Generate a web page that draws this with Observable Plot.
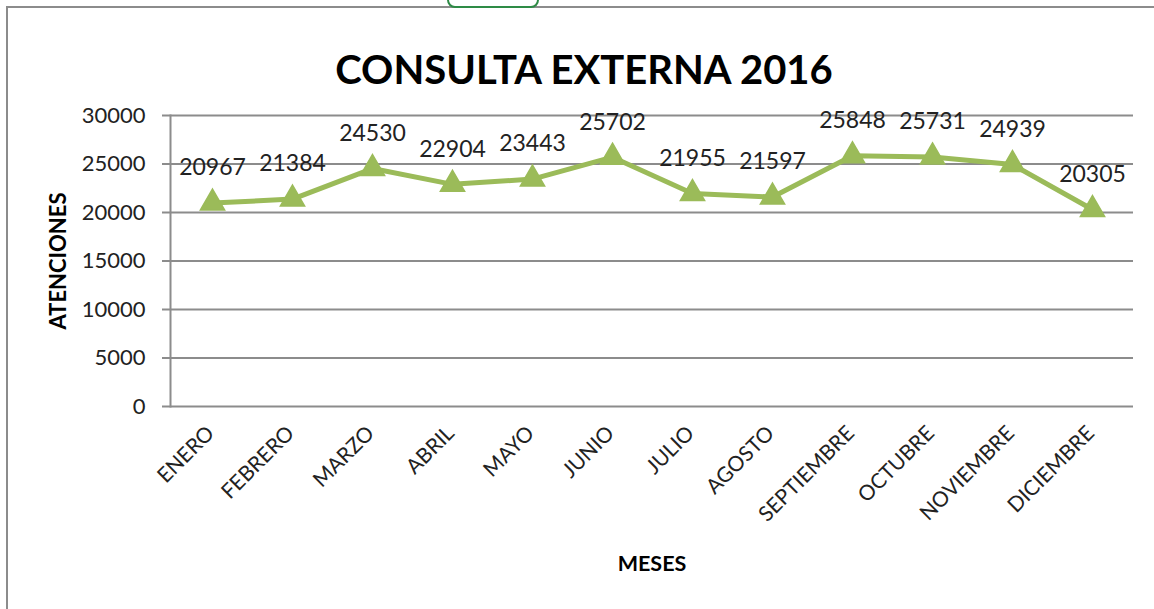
<!DOCTYPE html>
<html>
<head>
<meta charset="utf-8">
<script src="https://cdn.jsdelivr.net/npm/d3@7"></script>
<script src="https://cdn.jsdelivr.net/npm/@observablehq/plot@0.6"></script>
<style>
  html, body { margin: 0; padding: 0; background: #fff; }
  body { width: 1154px; height: 609px; position: relative; overflow: hidden; font-family: Lato, "Open Sans", sans-serif; }
  #frame { position: absolute; left: 6px; top: 6px; width: 1200px; height: 700px; border: 2px solid #8c8c8c; box-sizing: border-box; }
  #logo { position: absolute; left: 447px; top: -14px; width: 88px; height: 18px; border: 2px solid #2e8b46; border-radius: 8px; background: #fff; }
  #chart { position: absolute; left: 0; top: 0; }
</style>
</head>
<body>
<div id="frame"></div>
<div id="logo"></div>
<div id="chart"></div>
<script>
const title = "CONSULTA EXTERNA 2016";
const yLabel = "ATENCIONES";
const xLabel = "MESES";
const months = ["ENERO","FEBRERO","MARZO","ABRIL","MAYO","JUNIO","JULIO","AGOSTO","SEPTIEMBRE","OCTUBRE","NOVIEMBRE","DICIEMBRE"];
const values = [20967, 21384, 24530, 22904, 23443, 25702, 21955, 21597, 25848, 25731, 24939, 20305];
const yTicks = [0, 5000, 10000, 15000, 20000, 25000, 30000];

const data = months.map((m, i) => ({month: m, value: values[i]}));
const green = "#9bbb59";
const grey = "#8c8c8c";

const chart = Plot.plot({
  width: 1154,
  height: 609,
  marginLeft: 170,
  marginRight: 21,
  marginTop: 115,
  marginBottom: 203,
  style: {fontFamily: "Lato, 'Open Sans', sans-serif", background: "transparent", overflow: "visible"},
  x: {type: "point", domain: months, padding: 0.5, axis: null},
  y: {domain: [0, 30000], ticks: yTicks, label: null},
  marks: [
    Plot.ruleY(yTicks, {stroke: grey, strokeWidth: 2, insetLeft: -8}),
    Plot.frame({anchor: "left", stroke: grey, strokeWidth: 2}),
    Plot.axisY({ticks: yTicks, tickSize: 0, tickPadding: 25, fontSize: 22, fill: "#222", label: null, tickFormat: d => String(d)}),
    Plot.line(data, {x: "month", y: "value", stroke: green, strokeWidth: 5}),
    Plot.dot(data, {x: "month", y: "value", symbol: "triangle", r: 9, fill: green, stroke: green}),
    Plot.text(data, {x: "month", y: "value", text: d => String(d.value), dy: -35, fontSize: 23, fill: "#222"}),
    Plot.text(months, {x: d => d, frameAnchor: "bottom", rotate: -45, textAnchor: "end", dx: 3, dy: 28, fontSize: 21, fill: "#222"}),
    Plot.text([title], {frameAnchor: "top", dx: -68, dy: -60, fontSize: 40, fontWeight: "bold", fill: "#000"}),
    Plot.text([yLabel], {frameAnchor: "left", textAnchor: "middle", dx: -112, rotate: -90, fontSize: 22, fontWeight: "bold", fill: "#000"}),
    Plot.text([xLabel], {frameAnchor: "bottom", dy: 164, fontSize: 21.5, fontWeight: "bold", fill: "#000"})
  ]
});
document.getElementById("chart").appendChild(chart);
</script>
</body>
</html>
